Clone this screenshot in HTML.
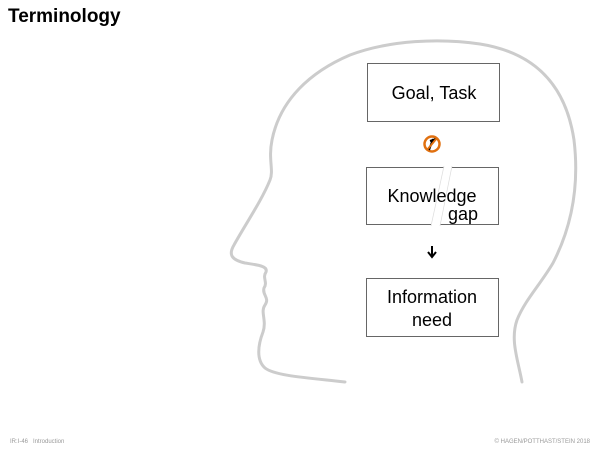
<!DOCTYPE html>
<html><head><style>
body{margin:0;width:600px;height:450px;background:#fff;position:relative;overflow:hidden;font-family:"Liberation Sans",sans-serif}
.t{position:absolute;left:8px;top:6px;font-size:19px;font-weight:bold;color:#000}
.f{position:absolute;top:439px;font-size:6px;color:#999}
</style></head><body>
<div class="t">Terminology</div>
<svg width="600" height="450" style="position:absolute;left:0;top:0" font-family="Liberation Sans, sans-serif">
<path d="M345,382 C310,378 275,376 265,368 C256,360 258,345 263,332 C267,320 260,312 265,305 C270,298 262,295 264,288 C268,282 262,278 266,272 C268,266 258,265 245,263 C232,260 228,255 234,245 C245,225 262,200 270,180 C274,170 268,160 272,140 C280,100 310,72 350,55 C390,40 440,38 480,44 C530,52 565,80 574,140 C580,190 570,230 553,263 C540,285 525,300 517,320 C510,340 518,360 522,382" fill="none" stroke="#ccc" stroke-width="3" stroke-linecap="round"/>
<g fill="#fff" stroke="#666" stroke-width="1">
<rect x="367.5" y="63.5" width="132" height="58"/>
<rect x="366.5" y="167.5" width="132" height="57"/>
<rect x="366.5" y="278.5" width="132" height="58"/>
</g>
<polygon points="444,166 452,166 440,226 431,226" fill="#fff"/>
<line x1="444" y1="166" x2="431" y2="226" stroke="#ddd" stroke-width="0.7"/>
<line x1="452" y1="166" x2="440" y2="226" stroke="#ddd" stroke-width="0.7"/>
<g font-size="18" fill="#000" text-anchor="middle">
<text x="434" y="99">Goal, Task</text>
<text x="432" y="202">Knowledge</text>
<text x="463" y="220">gap</text>
<text x="432" y="303">Information</text>
<text x="432" y="326">need</text>
</g>
<circle cx="432" cy="144" r="7.5" fill="#fff" stroke="#e07010" stroke-width="2.5"/>
<path d="M429,150 L433,139 M430,141 L436,139" stroke="#000" stroke-width="2"/>
<line x1="437" y1="138" x2="427" y2="150" stroke="#e07010" stroke-width="2"/>
<path d="M432,246 V256 M428,252 L432,257 L436,252" fill="none" stroke="#000" stroke-width="2"/>
</svg>
<div class="f" style="left:10px">IR:I-46 &nbsp; Introduction</div>
<div class="f" style="right:10px">© HAGEN/POTTHAST/STEIN 2018</div>
</body></html>
